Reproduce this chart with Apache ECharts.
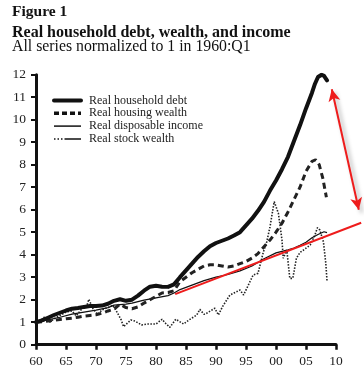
<!DOCTYPE html>
<html>
<head>
<meta charset="utf-8">
<script src="https://cdn.jsdelivr.net/npm/echarts@6/dist/echarts.min.js"></script>
<style>
html,body{margin:0;padding:0;background:#fff;}
#chart{width:364px;height:380px;}
</style>
</head>
<body>
<div id="chart"></div>
<script>
// ---- Data ----
const titleLine1 = 'Figure 1';
const titleLine2 = 'Real household debt, wealth, and income';
const titleLine3 = 'All series normalized to 1 in 1960:Q1';

const seriesNames = ['Real household debt', 'Real housing wealth', 'Real disposable income', 'Real stock wealth'];

const xTickValues = [1960, 1965, 1970, 1975, 1980, 1985, 1990, 1995, 2000, 2005, 2010];
const xTickLabels = ['60', '65', '70', '75', '80', '85', '90', '95', '00', '05', '10'];
const yTickLabels = ['0','1','2','3','4','5','6','7','8','9','10','11','12'];

const debt = [[1960,1.0],[1961,1.08],[1962,1.2],[1963,1.32],[1964,1.42],[1965,1.52],[1966,1.6],[1967,1.63],[1968,1.68],[1969,1.72],[1970,1.72],[1971,1.74],[1972,1.82],[1973,1.95],[1974,2.02],[1975,1.95],[1976,2.0],[1977,2.18],[1978,2.4],[1979,2.58],[1980,2.62],[1981,2.58],[1982,2.57],[1983,2.68],[1984,3.0],[1985,3.3],[1986,3.6],[1987,3.9],[1988,4.15],[1989,4.38],[1990,4.52],[1991,4.62],[1992,4.72],[1993,4.85],[1994,5.0],[1995,5.3],[1996,5.6],[1997,5.95],[1998,6.35],[1999,6.85],[2000,7.3],[2001,7.8],[2002,8.35],[2003,9.05],[2004,9.75],[2005,10.5],[2006,11.2],[2006.5,11.6],[2007,11.9],[2007.6,12.0],[2008,11.95],[2008.5,11.75]];

const housing = [[1960,1.0],[1961,1.02],[1962,1.05],[1963,1.08],[1964,1.12],[1965,1.15],[1966,1.18],[1967,1.22],[1968,1.27],[1969,1.3],[1970,1.33],[1971,1.4],[1972,1.5],[1973,1.58],[1974,1.8],[1975,1.65],[1976,1.6],[1977,1.68],[1978,1.85],[1979,2.0],[1980,2.15],[1981,2.3],[1982,2.32],[1983,2.4],[1984,2.8],[1985,3.0],[1986,3.2],[1987,3.35],[1988,3.5],[1989,3.55],[1990,3.55],[1991,3.5],[1992,3.45],[1993,3.5],[1994,3.6],[1995,3.7],[1996,3.85],[1997,4.05],[1998,4.35],[1999,4.65],[2000,5.0],[2001,5.4],[2002,5.9],[2003,6.45],[2004,7.0],[2005,7.7],[2006,8.15],[2006.6,8.22],[2007.2,8.0],[2007.8,7.4],[2008.4,6.55]];

const income = [[1960,1.0],[1962,1.1],[1964,1.22],[1966,1.36],[1968,1.45],[1970,1.54],[1972,1.65],[1973,1.76],[1974,1.78],[1975,1.8],[1976,1.85],[1978,1.98],[1980,2.08],[1982,2.18],[1983,2.3],[1984,2.45],[1986,2.65],[1988,2.85],[1990,3.0],[1992,3.12],[1994,3.28],[1996,3.5],[1998,3.82],[2000,4.08],[2001,4.15],[2002,4.22],[2003,4.3],[2004,4.42],[2005,4.55],[2006,4.75],[2007,4.9],[2008,5.02],[2008.5,4.98]];

const stock = [[1960,1.0],[1960.7,1.05],[1961.5,1.25],[1962.3,1.0],[1963,1.15],[1964,1.3],[1965,1.45],[1966,1.5],[1966.7,1.28],[1967.5,1.55],[1968.5,1.75],[1968.8,2.02],[1969.5,1.6],[1970.3,1.35],[1971,1.55],[1972,1.65],[1972.8,1.75],[1973.5,1.45],[1974.2,1.1],[1974.6,0.8],[1975.2,0.95],[1975.8,1.1],[1976.5,1.05],[1977.6,0.88],[1978.5,0.92],[1980,0.92],[1981,1.13],[1981.6,0.95],[1982.3,0.77],[1983.3,1.13],[1984.6,0.92],[1985.5,1.1],[1986.8,1.32],[1987.3,1.57],[1988,1.35],[1988.4,1.39],[1989.8,1.62],[1990.4,1.32],[1991.1,1.7],[1991.8,1.99],[1992.3,2.2],[1993,2.3],[1994,2.43],[1994.6,2.21],[1995.3,2.6],[1996.2,3.1],[1997,3.17],[1997.9,4.13],[1998.4,4.5],[1999,5.24],[1999.7,6.36],[2000.4,5.84],[2001,4.65],[2001.2,3.84],[2001.8,4.21],[2002.3,2.95],[2002.8,2.95],[2003.4,3.84],[2004,4.1],[2004.6,4.21],[2005.7,4.43],[2006.5,4.88],[2006.9,5.2],[2007.3,5.1],[2007.9,4.58],[2008.3,3.62],[2008.5,2.85]];

// Red annotations: trend line and double arrow (in data units)
const trendStart = [1983.2, 2.25];
const trendEnd = [2014.2, 5.42];
const arrowTop = [2009.3, 11.35];
const arrowBottom = [2013.8, 6.0];

// ---- Chart ----
const FONT = "'Liberation Serif', 'DejaVu Serif', serif";
const chart = echarts.init(document.getElementById('chart'), null, {renderer: 'canvas'});

const lineBase = {type: 'line', symbol: 'none', silent: true, animation: false, smooth: false, xAxisIndex: 0, yAxisIndex: 0, itemStyle: {color: '#111'}};

const option = {
  animation: false,
  backgroundColor: '#ffffff',
  title: [
    {text: titleLine1, left: 12, top: 3, padding: 0, textStyle: {fontFamily: FONT, fontWeight: 'bold', fontSize: 15.5, lineHeight: 18, color: '#111'}},
    {text: titleLine2, left: 12, top: 23.5, padding: 0, textStyle: {fontFamily: FONT, fontWeight: 'bold', fontSize: 16, lineHeight: 18, color: '#111'}},
    {text: titleLine3, left: 12, top: 39, padding: 0, textStyle: {fontFamily: FONT, fontWeight: 'normal', fontSize: 15.8, lineHeight: 16, color: '#111'}}
  ],
  legend: {
    orient: 'vertical',
    left: 52,
    top: 94.5,
    padding: 0,
    itemWidth: 27,
    itemHeight: 8,
    itemGap: 0.8,
    selectedMode: false,
    itemStyle: {opacity: 0, borderWidth: 0},
    textStyle: {fontFamily: FONT, fontSize: 12, color: '#222', padding: [0, 0, 0, 3], lineHeight: 12},
    data: [
      {name: seriesNames[0], lineStyle: {width: 4, color: '#111', type: 'solid'}},
      {name: seriesNames[1], lineStyle: {width: 3.5, color: '#111', type: [5, 3]}},
      {name: seriesNames[2], lineStyle: {width: 1.5, color: '#111', type: 'solid'}},
      {name: seriesNames[3], lineStyle: {width: 1.5, color: '#111', type: [1.5, 2, 1.5, 2, 1.5, 2, 30, 0]}}
    ]
  },
  grid: [
    {left: 36, right: 28, top: 74.7, bottom: 35.3, containLabel: false},
    {left: 36, right: 1, top: 74.7, bottom: 35.3, containLabel: false}
  ],
  xAxis: [
    {
      type: 'value', gridIndex: 0, min: 1960, max: 2010, interval: 5,
      axisLine: {show: true, lineStyle: {color: '#111', width: 3}},
      axisTick: {show: true, inside: false, length: 5, lineStyle: {color: '#111', width: 2.5}},
      axisLabel: {show: true, margin: 10, fontFamily: FONT, fontSize: 13.5, color: '#222',
        formatter: function (v) { const i = xTickValues.indexOf(Math.round(v)); return i >= 0 ? xTickLabels[i] : ''; }},
      splitLine: {show: false}
    },
    {
      type: 'value', gridIndex: 1, min: 1960, max: 2014.5, show: false, splitLine: {show: false}
    }
  ],
  yAxis: [
    {
      type: 'value', gridIndex: 0, min: 0, max: 12, interval: 1,
      axisLine: {show: true, lineStyle: {color: '#111', width: 3}},
      axisTick: {show: true, inside: false, length: 5, lineStyle: {color: '#111', width: 2}},
      axisLabel: {show: true, margin: 10, fontFamily: FONT, fontSize: 13.5, color: '#222',
        formatter: function (v) { return yTickLabels[Math.round(v)]; }},
      splitLine: {show: false}
    },
    {
      type: 'value', gridIndex: 1, min: 0, max: 12, show: false, splitLine: {show: false}
    }
  ],
  series: [
    Object.assign({}, lineBase, {name: seriesNames[3], data: stock, z: 2,
      lineStyle: {color: '#222', width: 1.6, type: [1.5, 1.5]}}),
    Object.assign({}, lineBase, {name: seriesNames[2], data: income, z: 3,
      lineStyle: {color: '#111', width: 1.2, type: 'solid'}}),
    Object.assign({}, lineBase, {name: seriesNames[1], data: housing, z: 4,
      lineStyle: {color: '#222', width: 3, type: [6, 4]}}),
    Object.assign({}, lineBase, {name: seriesNames[0], data: debt, z: 5,
      lineStyle: {color: '#111', width: 4, type: 'solid', join: 'round', cap: 'round'}}),
    {
      type: 'line', name: 'annotations', xAxisIndex: 1, yAxisIndex: 1, data: [], symbol: 'none',
      silent: true, animation: false, clip: false, z: 6,
      markLine: {
        silent: true, animation: false, symbol: ['none', 'none'],
        label: {show: false}, emphasis: {disabled: true},
        data: [
          [
            {coord: trendStart, symbol: 'none', lineStyle: {color: '#ee1c1c', width: 2, type: 'solid'}},
            {coord: trendEnd, symbol: 'none'}
          ],
          [
            {coord: arrowTop, symbol: 'arrow', symbolSize: [9, 12],
              lineStyle: {color: '#ee1c1c', width: 2, type: 'solid', shadowColor: 'rgba(0,0,0,0.35)', shadowBlur: 4, shadowOffsetX: 3, shadowOffsetY: 3}},
            {coord: arrowBottom, symbol: 'arrow', symbolSize: [9, 12]}
          ]
        ]
      }
    }
  ]
};
chart.setOption(option);
</script>
</body>
</html>
